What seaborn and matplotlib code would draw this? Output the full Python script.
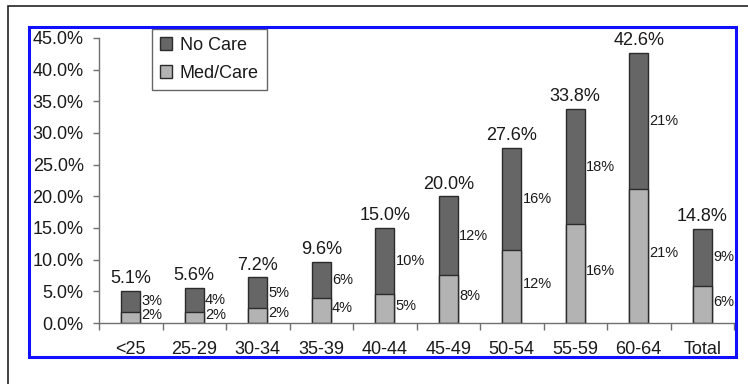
import matplotlib
matplotlib.use("Agg")
import matplotlib.pyplot as plt
import matplotlib.patches as mpatches
from matplotlib.ticker import FixedLocator, FuncFormatter
import numpy as np
import pandas as pd
import seaborn as sns

categories = ["<25", "25-29", "30-34", "35-39", "40-44", "45-49", "50-54", "55-59", "60-64", "Total"]
med_care = [1.7, 1.8, 2.4, 4.0, 4.6, 7.6, 11.6, 15.6, 21.2, 5.9]
no_care = [3.4, 3.8, 4.8, 5.6, 10.4, 12.4, 16.0, 18.2, 21.4, 8.9]
totals = [5.1, 5.6, 7.2, 9.6, 15.0, 20.0, 27.6, 33.8, 42.6, 14.8]
y_ticks = [0, 5, 10, 15, 20, 25, 30, 35, 40, 45]

DARK = "#666666"
LIGHT = "#b3b3b3"
EDGE = "#2b2b2b"
TXT = "#1a1a1a"

sns.set_style("white")
plt.rcParams["font.family"] = ["Liberation Sans", "DejaVu Sans"]

df = pd.DataFrame({"cat": categories, "med": med_care, "nocare": no_care})
df["stack"] = df["med"] + df["nocare"]

fig = plt.figure(figsize=(7.48, 3.84), dpi=100)
ax = fig.add_axes([99 / 748, 61 / 384, 635 / 748, 285 / 384])

sns.barplot(data=df, x="cat", y="stack", color=DARK, width=0.3, saturation=1,
            edgecolor=EDGE, linewidth=1.0, ax=ax)
sns.barplot(data=df, x="cat", y="med", color=LIGHT, width=0.3, saturation=1,
            edgecolor=EDGE, linewidth=1.0, ax=ax)

ax.set_xlim(-0.5, len(categories) - 0.5)
ax.set_ylim(0, 45)
ax.set_xlabel("")
ax.set_ylabel("")

ax.yaxis.set_major_locator(FixedLocator(y_ticks))
ax.yaxis.set_major_formatter(FuncFormatter(lambda v, p: f"{v:.1f}%"))
ax.tick_params(axis="y", which="major", direction="out", length=4, width=1,
               color="#707070", pad=7, labelsize=13, labelcolor=TXT, left=True)
ax.tick_params(axis="x", which="major", length=0, pad=13, labelsize=13, labelcolor=TXT)
ax.set_xticks(np.arange(-0.5, len(categories)), minor=True)
ax.tick_params(axis="x", which="minor", direction="out", length=5, width=1,
               color="#707070", bottom=True)

for s in ["top", "right"]:
    ax.spines[s].set_visible(False)
for s in ["left", "bottom"]:
    ax.spines[s].set_color("#707070")
    ax.spines[s].set_linewidth(1.0)

bar_half = 0.15
for i in range(len(categories)):
    m = df["med"][i]
    n = df["nocare"][i]
    t = totals[i]
    ax.text(i, m + n + 0.6, f"{t:.1f}%", ha="center", va="bottom", fontsize=13,
            color=TXT, clip_on=False)
    ax.text(i + bar_half + 0.02, m + n / 2, f"{n:.0f}%", ha="left", va="center",
            fontsize=10.5, color=TXT)
    ax.text(i + bar_half + 0.02, m / 2 + 0.4, f"{m:.0f}%", ha="left", va="center",
            fontsize=10.5, color=TXT)

handles = [mpatches.Patch(facecolor=DARK, edgecolor=EDGE, label="No Care"),
           mpatches.Patch(facecolor=LIGHT, edgecolor=EDGE, label="Med/Care")]
leg = ax.legend(handles=handles, loc="upper left", bbox_to_anchor=(0.083, 1.032),
                fontsize=13, frameon=True, fancybox=False, shadow=False,
                handlelength=0.7, handleheight=0.7, handletextpad=0.4,
                borderpad=0.45, labelspacing=0.6, borderaxespad=0)
leg.get_frame().set_edgecolor("#404040")
leg.get_frame().set_linewidth(1.0)
for t in leg.get_texts():
    t.set_color(TXT)

# blue frame around the chart
fig.patches.append(mpatches.Rectangle((29 / 748, 27 / 384), 707 / 748, 330 / 384,
                                      transform=fig.transFigure, fill=False,
                                      edgecolor="#1010ff", linewidth=2.2, zorder=5))
# outer black frame
fig.patches.append(mpatches.Rectangle((8 / 748, -0.1), 2.0, 1.1 - 6 / 384,
                                      transform=fig.transFigure, fill=False,
                                      edgecolor="#222222", linewidth=1.2, zorder=5))

fig.savefig("out.png", dpi=100)
